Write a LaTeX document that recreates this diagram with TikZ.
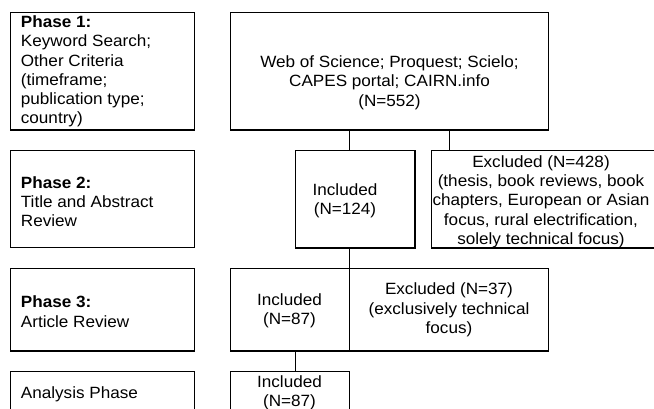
\documentclass[tikz,border=0pt]{standalone}
\usepackage{fontspec}
\setmainfont{Liberation Sans}[FakeStretch=1.05]
\usetikzlibrary{fit}
\begin{document}
\begin{tikzpicture}[x=1pt,y=-1pt,
  box/.style={draw, line width=1.1pt, inner sep=0pt, outer sep=0pt},
  txt/.style={inner sep=0pt, font=\fontsize{16.3}{19.3}\selectfont},
  lbl/.style={txt, align=left, anchor=west},
  ctr/.style={txt, align=center},
  link/.style={draw, line width=1.1pt}]
\clip (0,0) rectangle (654,408);
\fill[white] (0,0) rectangle (654,408);
% left column
\node[box, fit={(10.7,12.7) (194.7,130)}] (p1) {};
\node[box, fit={(10.7,150.7) (194.7,247.7)}] (p2) {};
\node[box, fit={(10.7,268.3) (194.7,351)}] (p3) {};
\node[box, fit={(10.7,371.7) (194.7,414)}] (p4) {};
\node[lbl] (t1) at (20.7,71.5) {\textbf{Phase 1:}\\Keyword Search;\\Other Criteria\\(timeframe;\\publication type;\\country)};
\node[lbl] (t2) at (20.7,201.6) {\textbf{Phase 2:}\\Title and Abstract\\Review};
\node[lbl] (t3) at (20.7,311.6) {\textbf{Phase 3:}\\Article Review};
\node[txt, anchor=base west] (t4) at (20.7,398.3) {Analysis Phase};
% right column
\node[box, fit={(230.7,12.7) (548.3,130)}] (db) {};
\node[box, fit={(295.3,150.7) (415,248)}] (inc1) {};
\node[box, fit={(431.7,150.7) (665,248)}] (exc1) {};
\node[box, fit={(230.7,268.3) (349.3,351)}] (inc2) {};
\node[box, fit={(349.3,268.3) (548.3,351)}] (exc2) {};
\node[box, fit={(230.7,371.7) (349.3,414)}] (inc3) {};
\node[ctr] (tdb) at (389.5,82.7) {Web of Science; Proquest; Scielo;\\CAPES portal; CAIRN.info\\(N=552)};
\node[ctr] (tinc1) at (345,200.5) {Included\\(N=124)};
\node[ctr] (texc1) at (541,201.5) {Excluded (N=428)\\(thesis, book reviews, book\\chapters, European or Asian\\focus, rural electrification,\\solely technical focus)};
\node[ctr] (tinc2) at (289.5,310.5) {Included\\(N=87)};
\node[ctr] (texc2) at (449,309.8) {Excluded (N=37)\\(exclusively technical\\focus)};
\node[ctr] (tinc3) at (289.5,392.5) {Included\\(N=87)};
% connectors
\coordinate (j1) at (349.3,0);
\coordinate (j2) at (449.3,0);
\coordinate (j3) at (295.7,0);
\draw[link] (db.south -| j1) -- (inc1.north -| j1);
\draw[link] (db.south -| j2) -- (exc1.north -| j2);
\draw[link] (inc1.south -| j1) -- (inc2.north -| j1);
\draw[link] (inc2.south -| j3) -- (inc3.north -| j3);
\end{tikzpicture}
\end{document}
